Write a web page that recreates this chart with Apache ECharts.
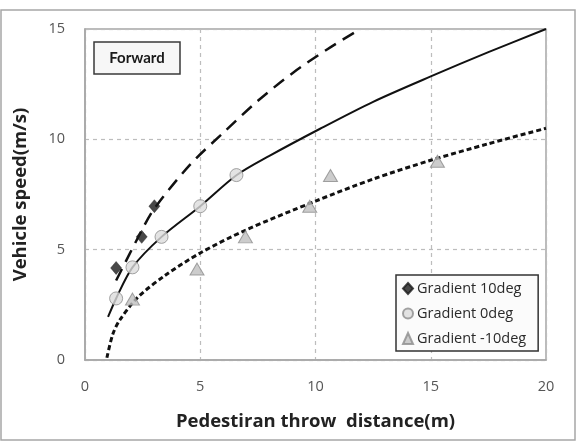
<!DOCTYPE html>
<html>
<head>
<meta charset="utf-8">
<script src="https://cdn.jsdelivr.net/npm/echarts@6/dist/echarts.min.js"></script>
<style>
  html, body { margin: 0; padding: 0; background: #fff; }
  #chart { width: 581px; height: 448px; }
</style>
</head>
<body>
<div id="chart"></div>
<script>
  // Measured points (throw distance m, vehicle speed m/s)
  var pos10Points = [[1.35, 4.17], [2.46, 5.58], [3.01, 6.97]];
  var flat0Points = [[1.35, 2.79], [2.06, 4.2], [3.32, 5.58], [5.0, 6.97], [6.57, 8.38]];
  var neg10Points = [[2.06, 2.76], [4.86, 4.12], [6.96, 5.58], [9.75, 6.97], [10.65, 8.36], [15.29, 9.01]];

  // Trend curves
  var pos10Curve = [[1.35, 3.6], [2.4, 5.75], [3.0, 6.85], [4.55, 8.84], [6.0, 10.3], [7.46, 11.71], [9.0, 13.0], [10.5, 14.07], [11.94, 15.0]];
  var flat0Curve = [[1.0, 1.95], [1.35, 2.79], [2.06, 4.2], [3.32, 5.58], [5.0, 6.97], [6.57, 8.37], [8.0, 9.25], [10.2, 10.48], [12.5, 11.7], [15.0, 12.85], [17.5, 13.95], [20.0, 15.0]];
  var neg10Curve = [[0.95, 0.1], [1.2, 1.15], [1.5, 1.8], [2.3, 2.85], [3.5, 3.85], [5.0, 4.85], [7.0, 5.9], [10.0, 7.2], [12.5, 8.2], [15.0, 9.05], [17.5, 9.8], [20.0, 10.5]];

  var seriesNames = ['Gradient 10deg', 'Gradient 0deg', 'Gradient -10deg'];
  var xName = 'Pedestiran throw  distance(m)';
  var yName = 'Vehicle speed(m/s)';
  var boxLabel = 'Forward';

  var font = '"Open Sans", "Noto Sans", sans-serif';

  var chart = echarts.init(document.getElementById('chart'), null, { renderer: 'canvas' });

  function curve(data, type, width) {
    return {
      type: 'line',
      data: data,
      smooth: 0.3,
      showSymbol: false,
      silent: true,
      z: 2,
      lineStyle: { color: '#111', width: width, type: type, cap: 'butt' }
    };
  }

  var option = {
    backgroundColor: '#fff',
    animation: false,
    grid: {
      left: 85, right: 35, top: 29, bottom: 88,
      containLabel: false,
      outerBoundsMode: 'none',
      show: true,
      borderColor: '#a6a6a6',
      borderWidth: 1.5
    },
    legend: {
      data: seriesNames,
      orient: 'vertical',
      left: 396,
      top: 275,
      padding: [6, 12, 5, 6],
      itemGap: 10,
      itemWidth: 10,
      itemHeight: 11,
      borderColor: '#333',
      borderWidth: 1.5,
      backgroundColor: '#fbfbfb',
      textStyle: { color: '#2a2a2a', fontSize: 14.5, fontFamily: font, padding: [0, 0, 0, -1] }
    },
    xAxis: {
      type: 'value',
      min: 0, max: 20, interval: 5,
      name: xName,
      nameLocation: 'middle',
      nameGap: 52,
      nameTextStyle: { color: '#222', fontSize: 18.5, fontWeight: 'bold', fontFamily: font },
      axisLine: { show: true, lineStyle: { color: '#a6a6a6', width: 1.5 } },
      axisTick: { show: false },
      axisLabel: { color: '#555', fontSize: 14.5, fontFamily: font, margin: 19 },
      splitLine: { show: true, lineStyle: { color: '#bdbdbd', type: [4, 4], width: 1.2 } }
    },
    yAxis: {
      type: 'value',
      min: 0, max: 15, interval: 5,
      name: yName,
      nameLocation: 'middle',
      nameGap: 55,
      nameTextStyle: { color: '#222', fontSize: 18.5, fontWeight: 'bold', fontFamily: font },
      axisLine: { show: true, lineStyle: { color: '#a6a6a6', width: 1.5 } },
      axisTick: { show: false },
      axisLabel: { color: '#555', fontSize: 14.5, fontFamily: font, margin: 20 },
      splitLine: { show: true, lineStyle: { color: '#bdbdbd', type: [4, 4], width: 1.2 } }
    },
    graphic: [
      {
        type: 'rect',
        shape: { x: 1, y: 10, width: 574, height: 430 },
        style: { fill: 'none', stroke: '#a6a6a6', lineWidth: 1.5 },
        silent: true
      },
      {
        type: 'rect',
        shape: { x: 94, y: 42, width: 86, height: 32 },
        style: { fill: '#f7f7f7', stroke: '#3a3a3a', lineWidth: 1.5 },
        z: 10,
        silent: true
      },
      {
        type: 'text',
        x: 137, y: 58,
        style: {
          text: boxLabel,
          fill: '#1a1a1a',
          font: 'bold 15px Lato, sans-serif',
          align: 'center',
          verticalAlign: 'middle'
        },
        z: 11,
        silent: true
      }
    ],
    series: [
      curve(pos10Curve, [13, 8], 2.5),
      curve(flat0Curve, 'solid', 2),
      curve(neg10Curve, [5, 3], 3),
      {
        name: seriesNames[0],
        type: 'scatter',
        data: pos10Points,
        symbol: 'diamond',
        symbolSize: [11, 13],
        z: 5,
        itemStyle: { color: '#1a1a1a', borderColor: '#1a1a1a', borderWidth: 0.5 }
      },
      {
        name: seriesNames[1],
        type: 'scatter',
        data: flat0Points,
        symbol: 'circle',
        symbolSize: 13,
        z: 5,
        itemStyle: { color: '#dcdcdc', borderColor: '#8c8c8c', borderWidth: 1 }
      },
      {
        name: seriesNames[2],
        type: 'scatter',
        data: neg10Points,
        symbol: 'triangle',
        symbolSize: [14, 12],
        z: 5,
        itemStyle: { color: '#bfbfbf', borderColor: '#8c8c8c', borderWidth: 1 }
      }
    ]
  };

  chart.setOption(option);
</script>
</body>
</html>
